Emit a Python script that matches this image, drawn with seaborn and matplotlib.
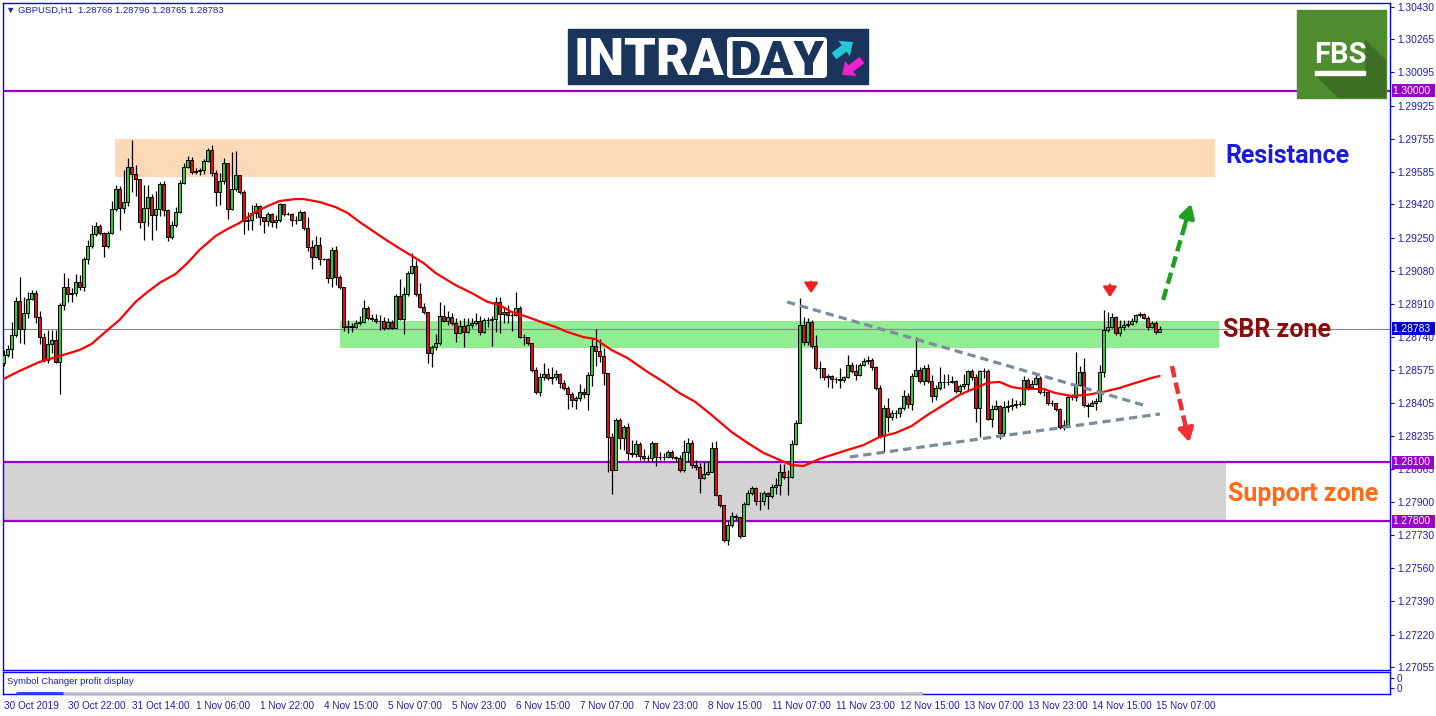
import matplotlib
matplotlib.use('Agg')
import matplotlib.pyplot as plt
import matplotlib.transforms as mtransforms
from matplotlib.patches import Rectangle, FancyBboxPatch, Polygon, FancyArrow
import seaborn as sns
import numpy as np
import pandas as pd

# GBPUSD H1, 30 Oct 2019 06:00 -> 15 Nov 2019 08:00 (290 bars)
first_open = 1.28609
closes = [
    1.28649, 1.28680, 1.28751, 1.28926, 1.28783, 1.28865, 1.28936, 1.28967, 1.28844, 1.28741,
    1.28624, 1.28706, 1.28726, 1.28614, 1.28905, 1.28997, 1.28962, 1.28967, 1.29023, 1.28997,
    1.29141, 1.29207, 1.29269, 1.29309, 1.29274, 1.29207, 1.29274, 1.29396, 1.29499, 1.29401,
    1.29432, 1.29611, 1.29576, 1.29550, 1.29330, 1.29401, 1.29457, 1.29365, 1.29396, 1.29525,
    1.29391, 1.29253, 1.29314, 1.29381, 1.29530, 1.29611, 1.29647, 1.29586, 1.29591, 1.29596,
    1.29642, 1.29698, 1.29581, 1.29483, 1.29540, 1.29632, 1.29396, 1.29499, 1.29570, 1.29483,
    1.29335, 1.29340, 1.29376, 1.29411, 1.29355, 1.29335, 1.29371, 1.29330, 1.29340, 1.29422,
    1.29371, 1.29371, 1.29340, 1.29340, 1.29381, 1.29299, 1.29202, 1.29151, 1.29212, 1.29141,
    1.29141, 1.29043, 1.29187, 1.29048, 1.28997, 1.28793, 1.28798, 1.28793, 1.28814, 1.28819,
    1.28890, 1.28839, 1.28834, 1.28824, 1.28824, 1.28788, 1.28819, 1.28788, 1.28951, 1.28834,
    1.28962, 1.29069, 1.29104, 1.28962, 1.28895, 1.28870, 1.28660, 1.28690, 1.28711, 1.28849,
    1.28824, 1.28844, 1.28814, 1.28762, 1.28798, 1.28767, 1.28803, 1.28814, 1.28824, 1.28767,
    1.28829, 1.28829, 1.28834, 1.28921, 1.28860, 1.28870, 1.28854, 1.28854, 1.28890, 1.28741,
    1.28741, 1.28711, 1.28573, 1.28461, 1.28537, 1.28552, 1.28532, 1.28537, 1.28552, 1.28507,
    1.28481, 1.28451, 1.28419, 1.28430, 1.28461, 1.28451, 1.28547, 1.28695, 1.28670, 1.28644,
    1.28558, 1.28230, 1.28061, 1.28317, 1.28225, 1.28281, 1.28149, 1.28144, 1.28195, 1.28133,
    1.28123, 1.28123, 1.28200, 1.28128, 1.28128, 1.28128, 1.28154, 1.28128, 1.28123, 1.28061,
    1.28154, 1.28200, 1.28087, 1.28077, 1.28020, 1.28041, 1.28051, 1.28174, 1.27933, 1.27882,
    1.27704, 1.27780, 1.27826, 1.27821, 1.27724, 1.27888, 1.27944, 1.27969, 1.27903, 1.27903,
    1.27944, 1.27928, 1.27974, 1.27985, 1.28051, 1.28025, 1.28025, 1.28195, 1.28302, 1.28803,
    1.28716, 1.28819, 1.28695, 1.28583, 1.28583, 1.28537, 1.28542, 1.28527, 1.28527, 1.28522,
    1.28537, 1.28598, 1.28568, 1.28547, 1.28598, 1.28619, 1.28624, 1.28588, 1.28481, 1.28235,
    1.28378, 1.28332, 1.28353, 1.28353, 1.28378, 1.28440, 1.28399, 1.28542, 1.28573, 1.28517,
    1.28583, 1.28517, 1.28440, 1.28481, 1.28512, 1.28512, 1.28512, 1.28517, 1.28466, 1.28491,
    1.28502, 1.28568, 1.28537, 1.28378, 1.28568, 1.28568, 1.28322, 1.28373, 1.28389, 1.28251,
    1.28383, 1.28389, 1.28394, 1.28399, 1.28399, 1.28522, 1.28486, 1.28502, 1.28532, 1.28461,
    1.28461, 1.28404, 1.28404, 1.28373, 1.28281, 1.28291, 1.28435, 1.28435, 1.28497, 1.28563,
    1.28394, 1.28389, 1.28404, 1.28414, 1.28563, 1.28777, 1.28793, 1.28844, 1.28762, 1.28793,
    1.28803, 1.28808, 1.28824, 1.28854, 1.28860, 1.28839, 1.28793, 1.28814, 1.28766, 1.28783,
]
highs = [
    1.28675, 1.28700, 1.28819, 1.28946, 1.29048, 1.28946, 1.28972, 1.28982, 1.28982, 1.28875,
    1.28762, 1.28777, 1.28777, 1.28777, 1.28916, 1.29069, 1.29043, 1.28992, 1.29064, 1.29058,
    1.29151, 1.29238, 1.29314, 1.29330, 1.29320, 1.29279, 1.29284, 1.29437, 1.29519, 1.29514,
    1.29596, 1.29657, 1.29749, 1.29621, 1.29550, 1.29519, 1.29519, 1.29473, 1.29488, 1.29535,
    1.29540, 1.29396, 1.29335, 1.29406, 1.29545, 1.29632, 1.29667, 1.29662, 1.29606, 1.29606,
    1.29652, 1.29708, 1.29723, 1.29596, 1.29581, 1.29657, 1.29632, 1.29688, 1.29693, 1.29570,
    1.29493, 1.29381, 1.29416, 1.29427, 1.29416, 1.29345, 1.29381, 1.29376, 1.29365, 1.29427,
    1.29422, 1.29381, 1.29376, 1.29360, 1.29391, 1.29386, 1.29355, 1.29238, 1.29258, 1.29253,
    1.29146, 1.29146, 1.29202, 1.29207, 1.29058, 1.28997, 1.28829, 1.28814, 1.28829, 1.28849,
    1.28931, 1.28900, 1.28860, 1.28860, 1.28854, 1.28844, 1.28839, 1.28829, 1.28962, 1.29038,
    1.28997, 1.29079, 1.29172, 1.29135, 1.29018, 1.28916, 1.28870, 1.28700, 1.28757, 1.28921,
    1.28905, 1.28875, 1.28865, 1.28839, 1.28829, 1.28839, 1.28839, 1.28839, 1.28865, 1.28849,
    1.28839, 1.28844, 1.28849, 1.28946, 1.28946, 1.28895, 1.28905, 1.28865, 1.28972, 1.28900,
    1.28757, 1.28736, 1.28711, 1.28588, 1.28558, 1.28609, 1.28583, 1.28588, 1.28573, 1.28558,
    1.28522, 1.28491, 1.28461, 1.28440, 1.28502, 1.28481, 1.28563, 1.28736, 1.28783, 1.28731,
    1.28685, 1.28558, 1.28251, 1.28327, 1.28327, 1.28291, 1.28302, 1.28215, 1.28215, 1.28205,
    1.28169, 1.28138, 1.28210, 1.28200, 1.28154, 1.28149, 1.28164, 1.28164, 1.28133, 1.28138,
    1.28215, 1.28225, 1.28215, 1.28113, 1.28098, 1.28103, 1.28108, 1.28205, 1.28210, 1.27933,
    1.27882, 1.27806, 1.27847, 1.27836, 1.27821, 1.27898, 1.27959, 1.27979, 1.27974, 1.27949,
    1.27954, 1.27949, 1.27990, 1.28020, 1.28092, 1.28092, 1.28061, 1.28215, 1.28317, 1.28941,
    1.28844, 1.28839, 1.28829, 1.28751, 1.28619, 1.28578, 1.28552, 1.28547, 1.28537, 1.28583,
    1.28542, 1.28649, 1.28614, 1.28603, 1.28609, 1.28634, 1.28644, 1.28634, 1.28593, 1.28497,
    1.28394, 1.28430, 1.28368, 1.28368, 1.28383, 1.28471, 1.28455, 1.28558, 1.28741, 1.28588,
    1.28598, 1.28603, 1.28547, 1.28497, 1.28588, 1.28552, 1.28552, 1.28542, 1.28522, 1.28502,
    1.28552, 1.28573, 1.28578, 1.28552, 1.28573, 1.28583, 1.28578, 1.28394, 1.28419, 1.28394,
    1.28414, 1.28419, 1.28430, 1.28419, 1.28414, 1.28542, 1.28532, 1.28522, 1.28552, 1.28542,
    1.28481, 1.28466, 1.28419, 1.28404, 1.28378, 1.28317, 1.28446, 1.28451, 1.28665, 1.28593,
    1.28634, 1.28404, 1.28419, 1.28430, 1.28598, 1.28880, 1.28870, 1.28865, 1.28849, 1.28829,
    1.28829, 1.28829, 1.28839, 1.28860, 1.28870, 1.28865, 1.28849, 1.28824, 1.28824, 1.28796,
]
lows = [
    1.28593, 1.28639, 1.28634, 1.28741, 1.28711, 1.28706, 1.28839, 1.28931, 1.28814, 1.28706,
    1.28614, 1.28609, 1.28660, 1.28609, 1.28451, 1.28880, 1.28921, 1.28921, 1.28951, 1.28982,
    1.28977, 1.29115, 1.29197, 1.29258, 1.29263, 1.29151, 1.29197, 1.29269, 1.29386, 1.29289,
    1.29376, 1.29411, 1.29483, 1.29462, 1.29299, 1.29238, 1.29309, 1.29238, 1.29289, 1.29360,
    1.29360, 1.29233, 1.29243, 1.29304, 1.29376, 1.29525, 1.29606, 1.29576, 1.29576, 1.29570,
    1.29576, 1.29637, 1.29565, 1.29411, 1.29416, 1.29525, 1.29345, 1.29391, 1.29488, 1.29473,
    1.29269, 1.29289, 1.29289, 1.29350, 1.29314, 1.29274, 1.29309, 1.29304, 1.29299, 1.29330,
    1.29360, 1.29365, 1.29309, 1.29320, 1.29340, 1.29289, 1.29182, 1.29089, 1.29146, 1.29109,
    1.29135, 1.29018, 1.28997, 1.29007, 1.28987, 1.28772, 1.28762, 1.28767, 1.28788, 1.28803,
    1.28814, 1.28829, 1.28824, 1.28814, 1.28777, 1.28777, 1.28783, 1.28783, 1.28788, 1.28829,
    1.28757, 1.28951, 1.29064, 1.28951, 1.28890, 1.28860, 1.28609, 1.28588, 1.28675, 1.28700,
    1.28819, 1.28803, 1.28803, 1.28716, 1.28762, 1.28690, 1.28762, 1.28788, 1.28803, 1.28751,
    1.28762, 1.28793, 1.28695, 1.28767, 1.28762, 1.28814, 1.28814, 1.28772, 1.28849, 1.28736,
    1.28700, 1.28700, 1.28563, 1.28451, 1.28440, 1.28522, 1.28522, 1.28502, 1.28522, 1.28481,
    1.28471, 1.28373, 1.28383, 1.28373, 1.28414, 1.28430, 1.28368, 1.28491, 1.28593, 1.28614,
    1.28497, 1.28051, 1.27939, 1.28061, 1.28169, 1.28164, 1.28113, 1.28128, 1.28128, 1.28113,
    1.28113, 1.28108, 1.28103, 1.28082, 1.28113, 1.28113, 1.28123, 1.28118, 1.28103, 1.28051,
    1.28051, 1.28103, 1.28072, 1.28061, 1.27944, 1.28015, 1.28036, 1.28051, 1.27928, 1.27872,
    1.27694, 1.27678, 1.27770, 1.27806, 1.27714, 1.27729, 1.27882, 1.27933, 1.27882, 1.27857,
    1.27882, 1.27862, 1.27918, 1.27939, 1.27933, 1.28015, 1.27933, 1.28020, 1.28189, 1.28302,
    1.28700, 1.28700, 1.28685, 1.28573, 1.28532, 1.28522, 1.28486, 1.28481, 1.28507, 1.28481,
    1.28512, 1.28532, 1.28558, 1.28522, 1.28542, 1.28593, 1.28603, 1.28573, 1.28471, 1.28225,
    1.28154, 1.28256, 1.28317, 1.28327, 1.28332, 1.28368, 1.28378, 1.28368, 1.28537, 1.28507,
    1.28497, 1.28507, 1.28409, 1.28419, 1.28471, 1.28481, 1.28497, 1.28507, 1.28455, 1.28455,
    1.28476, 1.28471, 1.28522, 1.28307, 1.28230, 1.28532, 1.28317, 1.28281, 1.28368, 1.28220,
    1.28235, 1.28358, 1.28368, 1.28378, 1.28389, 1.28394, 1.28471, 1.28481, 1.28497, 1.28451,
    1.28440, 1.28394, 1.28389, 1.28363, 1.28271, 1.28266, 1.28286, 1.28419, 1.28414, 1.28491,
    1.28383, 1.28332, 1.28394, 1.28368, 1.28409, 1.28537, 1.28767, 1.28788, 1.28751, 1.28746,
    1.28777, 1.28793, 1.28803, 1.28814, 1.28844, 1.28834, 1.28777, 1.28788, 1.28757, 1.28765,
]

# red moving average at these bars
ma_bars = [0, 4, 9, 14, 19, 22, 26, 29, 33, 36, 39, 43, 46, 49, 53, 56, 59, 63, 66, 69,
           73, 75, 79, 83, 86, 89, 96, 100, 105, 108, 113, 117, 121, 124, 127, 131, 135, 138,
           141, 145, 148, 152, 156, 161, 165, 169, 173, 177, 182, 186, 190, 194, 197, 200,
           204, 207, 211, 215, 219, 223, 227, 231, 235, 239, 243, 246, 249, 252, 255, 260,
           263, 267, 271, 275, 279, 283, 287, 289]
ma_values = [1.28527, 1.28568, 1.28614, 1.28644, 1.28675, 1.28706, 1.28777, 1.28829, 1.28921,
             1.28972, 1.29018, 1.29064, 1.29120, 1.29187, 1.29258, 1.29294, 1.29325, 1.29381,
             1.29411, 1.29437, 1.29447, 1.29447, 1.29432, 1.29406, 1.29376, 1.29330, 1.29233,
             1.29182, 1.29120, 1.29069, 1.29007, 1.28967, 1.28921, 1.28905, 1.28870, 1.28844,
             1.28814, 1.28793, 1.28767, 1.28741, 1.28731, 1.28675, 1.28634, 1.28563, 1.28512,
             1.28455, 1.28409, 1.28343, 1.28256, 1.28200, 1.28149, 1.28113, 1.28087, 1.28082,
             1.28118, 1.28138, 1.28164, 1.28189, 1.28230, 1.28251, 1.28286, 1.28343, 1.28394,
             1.28446, 1.28481, 1.28507, 1.28512, 1.28486, 1.28476, 1.28476, 1.28455, 1.28440,
             1.28446, 1.28461, 1.28481, 1.28507, 1.28532, 1.28542]

price_ticks = [1.30430, 1.30265, 1.30095, 1.29925, 1.29755, 1.29585, 1.29420, 1.29250,
               1.29080, 1.28910, 1.28740, 1.28575, 1.28405, 1.28235, 1.28065, 1.27900,
               1.27730, 1.27560, 1.27390, 1.27220, 1.27055]
date_labels = ['30 Oct 2019', '30 Oct 22:00', '31 Oct 14:00', '1 Nov 06:00', '1 Nov 22:00',
               '4 Nov 15:00', '5 Nov 07:00', '5 Nov 23:00', '6 Nov 15:00', '7 Nov 07:00',
               '7 Nov 23:00', '8 Nov 15:00', '11 Nov 07:00', '11 Nov 23:00', '12 Nov 15:00',
               '13 Nov 07:00', '13 Nov 23:00', '14 Nov 15:00', '15 Nov 07:00']
date_bars = [0, 16, 32, 48, 64, 80, 96, 112, 128, 144, 160, 176, 192, 208, 224, 240, 256, 272, 288]

# drawn analysis objects (bar, price)
level_lines = [1.30000, 1.28100, 1.27800]
resistance_zone = [27.9, 302.9, 1.29560, 1.29754]
sbr_zone = [84.1, 303.9, 1.28685, 1.28824]
support_zone = [-0.2, 305.6, 1.27800, 1.28100]
trend_upper = ([195.9, 284.9], [1.28921, 1.28394])
trend_lower = ([211.6, 289.1], [1.28128, 1.28348])
up_arrow = ([289.9, 297.1], [1.28931, 1.29437])
down_arrow = ([292.1, 296.6], [1.28593, 1.28189])
top_marks = [(201.9, 1.29038, 1.28951), (276.6, 1.29023, 1.28931)]

sns.set_style('white')
plt.rcParams['font.family'] = ['Liberation Sans', 'DejaVu Sans']

W, H = 1436, 716
BLUE = '#0000FF'
TXT = '#1F1FB0'
PURPLE = '#9A00CC'


def frac(x0, y0, x1, y1):
    return [x0 / W, 1 - y1 / H, (x1 - x0) / W, (y1 - y0) / H]


fig = plt.figure(figsize=(W / 100, H / 100), dpi=100)
ax = fig.add_axes(frac(3, 3, 1390, 670))
sub = fig.add_axes(frac(3, 672, 1390, 694))

df = pd.DataFrame({'close': closes, 'high': highs, 'low': lows})
df['open'] = [first_open] + closes[:-1]
df['bar'] = np.arange(len(df))
body_lo = df[['open', 'close']].min(axis=1)
body_hi = df[['open', 'close']].max(axis=1)
up = df['close'] >= df['open']

xmin, xmax = -0.125, 346.625
ymin, ymax = 1.270386, 1.304497

# zones
for x0, x1, p0, p1, col in [resistance_zone + ['#FDD9B7'], sbr_zone + ['#90EE90'],
                            support_zone + ['#D3D3D3']]:
    ax.add_patch(Rectangle((x0, p0), x1 - x0, p1 - p0, color=col, lw=0, zorder=0))

for lvl in level_lines:
    ax.axhline(lvl, color=PURPLE, lw=1.6, zorder=1)
ax.axhline(closes[-1], color='#888888', lw=0.8, zorder=1)

# candles
ax.vlines(df['bar'], np.minimum(df['low'], body_lo), np.maximum(df['high'], body_hi),
          color='black', lw=0.9, zorder=3)
ax.bar(df['bar'], (body_hi - body_lo).clip(lower=0.000008), bottom=body_lo, width=0.6,
       color=np.where(up, '#2ECC2E', '#E01010'), edgecolor='black', linewidth=0.7, zorder=4)

sns.lineplot(x=ma_bars, y=ma_values, ax=ax, color='#FF0000', lw=1.6, zorder=5)

# trend lines and arrows
for xs, ys in [trend_upper, trend_lower]:
    ax.plot(xs, ys, color='#7D8D98', lw=2.3, ls=(0, (2.6, 1.6)), zorder=6)
for (xs, ys), col in [(up_arrow, '#20A020'), (down_arrow, '#EE3030')]:
    ax.plot([xs[0], xs[0] + 0.8 * (xs[1] - xs[0])], [ys[0], ys[0] + 0.8 * (ys[1] - ys[0])],
            color=col, lw=3.2, ls=(0, (2.6, 1.2)), zorder=6)
    ax.annotate('', xy=(xs[1], ys[1]), xytext=(xs[0] + 0.75 * (xs[1] - xs[0]), ys[0] + 0.75 * (ys[1] - ys[0])),
                arrowprops=dict(arrowstyle='-|>,head_width=0.45,head_length=0.8', color=col, lw=3),
                zorder=6)
for xb, p_top, p_tip in top_marks:
    ax.annotate('', xy=(xb, p_tip), xytext=(xb, p_top),
                arrowprops=dict(arrowstyle='-|>,head_width=0.4,head_length=0.6', color='#EE2222', lw=1.8),
                zorder=6)

ax.text(321.1, 1.29667, 'Resistance', color='#1A1AE0', fontsize=18, fontweight='bold',
        family='Roboto', ha='center', va='center', zorder=7)
ax.text(318.4, 1.28777, 'SBR zone', color='#8B0A0A', fontsize=18, fontweight='bold',
        family='Roboto', ha='center', va='center', zorder=7)
ax.text(324.9, 1.27939, 'Support zone', color='#FF6A14', fontsize=18, fontweight='bold',
        family='Roboto', ha='center', va='center', zorder=7)

ax.set_xlim(xmin, xmax)
ax.set_ylim(ymin, ymax)
ax.set_xticks([])
ax.yaxis.tick_right()
ax.set_yticks(price_ticks)
ax.set_yticklabels([f'{p:.5f}' for p in price_ticks])
ax.tick_params(axis='y', color=BLUE, labelcolor=TXT, length=3, width=0.8, labelsize=7.4, pad=2)
ax.set_xlabel('')
ax.set_ylabel('')
for sp in ax.spines.values():
    sp.set_color(BLUE)
    sp.set_linewidth(1)

# price tags on the right axis
tr = mtransforms.blended_transform_factory(ax.transAxes, ax.transData)
for lvl in level_lines:
    ax.text(1.0022, lvl, f'{lvl:.5f} ', transform=tr, color='white', fontsize=7.4, va='center',
            ha='left', clip_on=False, zorder=8,
            bbox=dict(boxstyle='square,pad=0.15', fc=PURPLE, ec='none'))
ax.text(1.0022, closes[-1], f'{closes[-1]:.5f} ', transform=tr, color='white', fontsize=7.4,
        va='center', ha='left', clip_on=False, zorder=8,
        bbox=dict(boxstyle='square,pad=0.15', fc='#0000CC', ec='none'))

# sub window
sub.set_xlim(xmin, xmax)
sub.set_ylim(0, 1)
sub.yaxis.tick_right()
sub.set_yticks([0.72, 0.27])
sub.set_yticklabels(['0', '0'])
sub.set_xticks(date_bars)
sub.set_xticklabels(date_labels, ha='left')
sub.tick_params(axis='both', color=BLUE, labelcolor=TXT, length=3, width=0.8, labelsize=7.2, pad=2)
for sp in sub.spines.values():
    sp.set_color(BLUE)
    sp.set_linewidth(1)
sub.text(0.003, 0.55, 'Symbol Changer profit display', transform=sub.transAxes, color=TXT,
         fontsize=6.8, va='center', ha='left')

# overlay in pixel space for header and logos
ov = fig.add_axes([0, 0, 1, 1], zorder=10)
ov.set_xlim(0, W)
ov.set_ylim(H, 0)
ov.axis('off')
ov.patch.set_alpha(0)

ov.text(6, 10, '▼ GBPUSD,H1  1.28766 1.28796 1.28765 1.28783', color=TXT, fontsize=6.8,
        va='center', ha='left')
ov.plot([17, 63], [693, 693], color='#2040FF', lw=2)
ov.plot([64, 922], [693, 693], color='#C4C4C4', lw=2)

ov.add_patch(Rectangle((568, 29), 300, 55, color='#1B345C'))
ov.text(574, 75, 'INTRA', color='white', fontsize=36.5, fontweight='heavy', family='Roboto',
        ha='left', va='baseline')
ov.add_patch(FancyBboxPatch((727, 37), 100, 41, boxstyle='round,pad=0,rounding_size=4',
                            fc='white', ec='none'))
ov.text(777, 75, 'DAY', color='#1B345C', fontsize=35, fontweight='heavy', family='Roboto',
        ha='center', va='baseline')
ov.add_patch(FancyArrow(834, 56, 19, -14, width=8, head_width=19, head_length=11,
                        length_includes_head=True, color='#22C8D8', lw=0))
ov.add_patch(FancyArrow(862, 60, -20, 15, width=8, head_width=19, head_length=11,
                        length_includes_head=True, color='#EE22CC', lw=0))

ov.add_patch(Rectangle((1297, 10), 89, 88, color='#4F8C30'))
ov.add_patch(Polygon([(1315, 75), (1365, 71), (1365, 39), (1386, 60), (1386, 98), (1338, 98)],
                     closed=True, color='#3D6F24', lw=0))
ov.text(1340, 63, 'FBS', color='white', fontsize=21, fontweight='bold', family='Roboto',
        ha='center', va='baseline')
ov.add_patch(Rectangle((1315, 71), 50, 4, color='white'))

plt.savefig('out.png', dpi=100)
plt.close('all')
